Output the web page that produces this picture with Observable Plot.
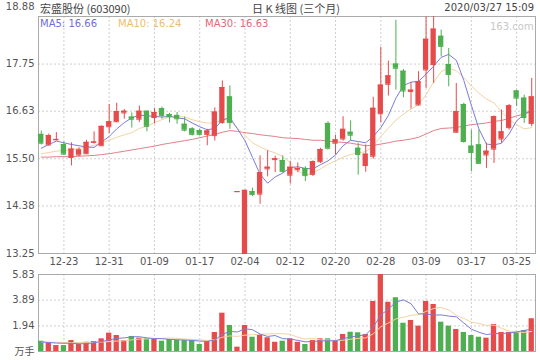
<!DOCTYPE html>
<html><head><meta charset="utf-8">
<script src="https://cdn.jsdelivr.net/npm/d3@7"></script>
<script src="https://cdn.jsdelivr.net/npm/@observablehq/plot@0.6"></script>
<style>
body{margin:0;background:#fff;}
#wrap{position:relative;width:540px;height:360px;overflow:hidden;font-family:"DejaVu Sans","Noto Sans CJK SC",sans-serif;color:#444;}
.t{position:absolute;white-space:nowrap;line-height:12px;}
#p1,#p2{position:absolute;left:0;}
</style></head><body>
<div id="wrap">
 <div id="p1" style="top:0"></div>
 <div id="p2" style="top:266px"></div>
 <div class="t" style="left:40px;top:2px;font-size:11px;font-family:'Noto Sans CJK SC',sans-serif;">宏盛股份 (603090)</div>
 <div class="t" style="left:252px;top:2px;font-size:11px;font-family:'Noto Sans CJK SC',sans-serif;">日 K 线图 (三个月)</div>
 <div class="t" style="right:6px;top:2px;font-size:10px;">2020/03/27 15:09</div>
 <div class="t" style="left:40px;top:18px;font-size:10px;color:#6f6fd6;">MA5: 16.66</div>
 <div class="t" style="left:118px;top:18px;font-size:10px;color:#eebc6e;">MA10: 16.24</div>
 <div class="t" style="left:205px;top:18px;font-size:10px;color:#de6a78;">MA30: 16.63</div>
 <div class="t" style="left:490px;top:21px;font-size:10px;color:#c8c8c8;">163.com</div>
</div>
<script>
const dates = ["12-18","12-19","12-20","12-23","12-24","12-25","12-26","12-27","12-30","12-31",
"01-02","01-03","01-06","01-07","01-08","01-09","01-10","01-13","01-14","01-15","01-16","01-17","01-20","01-21","01-22","01-23",
"02-03","02-04","02-05","02-06","02-07","02-10","02-11","02-12","02-13","02-14","02-17","02-18","02-19","02-20","02-21","02-24","02-25","02-26","02-27","02-28",
"03-02","03-03","03-04","03-05","03-06","03-09","03-10","03-11","03-12","03-13","03-16","03-17","03-18","03-19","03-20","03-23","03-24","03-25","03-26","03-27"];
const open = [16.08,15.83,15.95,15.84,15.53,15.59,15.62,15.89,15.81,16.26,
16.38,16.59,16.49,16.44,16.63,16.48,16.69,16.55,16.53,16.32,16.21,16.17,16.08,16.05,16.36,16.97,
14.72,13.25,14.72,14.66,15.26,15.48,15.46,15.11,15.24,15.27,15.13,15.43,16.34,15.87,15.97,16.13,15.75,15.34,15.56,16.57,
17.27,17.75,17.58,17.10,16.78,17.61,17.74,18.41,17.74,16.13,16.79,15.80,15.83,15.59,15.73,15.97,16.24,17.11,16.94,16.34];
const high = [16.16,16.09,16.12,15.90,15.88,15.76,15.94,16.14,16.28,16.79,
16.82,16.67,16.59,16.75,16.63,16.70,16.73,16.58,16.60,16.49,16.24,16.20,16.20,16.71,17.35,17.23,
14.72,14.75,14.80,15.57,15.69,15.56,15.57,15.43,15.40,15.31,15.45,15.75,16.38,16.06,16.50,16.40,15.87,15.83,16.96,18.15,
17.82,18.79,17.62,17.31,17.57,18.87,18.88,18.56,18.12,17.29,16.82,16.18,16.18,15.87,16.52,16.66,16.79,17.13,17.01,17.41];
const low = [15.83,15.80,15.93,15.58,15.33,15.55,15.60,15.85,15.80,16.10,
16.36,16.44,16.23,16.36,16.14,16.33,16.44,16.35,16.32,16.14,16.04,16.04,15.81,15.92,16.32,16.20,
14.72,13.25,14.60,14.42,15.07,15.17,15.16,14.90,15.17,14.96,15.08,15.39,15.71,15.59,15.92,15.92,15.11,15.18,15.49,16.35,
16.99,17.13,16.95,16.68,16.75,17.17,17.29,17.92,17.21,16.11,15.87,15.19,15.39,15.27,15.39,15.87,16.18,16.74,16.34,16.26];
const close = [15.87,16.05,15.96,15.61,15.73,15.71,15.89,15.90,16.27,16.38,
16.62,16.63,16.44,16.63,16.27,16.60,16.53,16.50,16.45,16.18,16.08,16.08,16.16,16.61,17.19,16.36,
14.72,14.75,14.65,15.17,15.30,15.50,15.20,15.30,15.27,15.10,15.43,15.72,15.75,15.95,16.20,16.06,15.60,15.61,16.70,17.25,
17.47,17.65,17.11,17.13,17.33,18.34,18.58,18.17,17.50,16.62,15.91,15.65,15.39,15.68,16.50,16.14,16.76,16.94,16.48,16.97];
const ma5 = [15.75,15.84,15.92,15.88,15.84,15.81,15.78,15.77,15.90,16.03,
16.21,16.36,16.47,16.54,16.52,16.51,16.49,16.51,16.47,16.45,16.35,16.26,16.19,16.22,16.42,16.48,
16.21,15.93,15.53,15.13,14.92,15.07,15.16,15.29,15.31,15.27,15.26,15.36,15.45,15.59,15.81,15.94,15.91,15.88,16.03,16.24,
16.53,16.94,17.24,17.32,17.34,17.51,17.70,17.91,17.98,17.84,17.36,16.77,16.21,15.85,15.83,15.87,16.09,16.40,16.56,16.66];
const ma10 = [15.62,15.65,15.68,15.70,15.72,15.75,15.78,15.82,15.88,15.94,
16.01,16.07,16.12,16.22,16.27,16.36,16.43,16.49,16.51,16.49,16.43,16.38,16.35,16.35,16.44,16.41,
16.23,16.06,15.88,15.78,15.70,15.64,15.55,15.41,15.22,15.10,15.17,15.26,15.37,15.45,15.54,15.60,15.64,15.67,15.81,16.03,
16.23,16.42,16.56,16.68,16.79,17.02,17.32,17.57,17.65,17.59,17.43,17.23,17.06,16.92,16.83,16.61,16.43,16.31,16.21,16.24];
const ma30 = [15.54,15.54,15.55,15.55,15.55,15.56,15.57,15.58,15.60,15.62,
15.65,15.68,15.71,15.74,15.77,15.80,15.84,15.87,15.90,15.93,15.96,16.00,16.04,16.08,16.13,16.17,
16.15,16.12,16.10,16.07,16.05,16.03,16.00,15.99,15.98,15.96,15.94,15.94,15.92,15.90,15.89,15.87,15.84,15.81,15.82,15.85,
15.88,15.92,15.94,15.97,16.01,16.09,16.17,16.22,16.23,16.24,16.28,16.31,16.33,16.35,16.39,16.41,16.46,16.52,16.56,16.63];
const vol = [0.78,0.63,0.45,0.45,0.83,0.55,0.70,0.76,0.96,1.39,
1.21,0.83,1.14,1.01,0.96,0.96,0.78,0.91,0.85,0.83,0.83,0.53,0.78,1.44,2.90,1.97,
0.33,1.97,1.08,1.26,1.04,0.70,0.78,0.96,0.70,0.53,0.83,0.96,0.96,0.83,1.29,1.46,1.42,1.29,3.79,5.83,
3.73,4.07,2.14,2.35,1.92,3.79,3.56,2.22,1.92,1.67,1.44,1.21,1.08,1.01,2.05,1.44,1.44,1.46,1.59,2.48];
const vma5 = [0.72,0.68,0.64,0.62,0.63,0.58,0.60,0.66,0.76,0.87,
1.00,1.03,1.11,1.12,1.03,0.98,0.97,0.92,0.89,0.87,0.84,0.79,0.76,0.88,1.30,1.52,
1.48,1.72,1.65,1.32,1.14,1.21,0.97,0.95,0.84,0.73,0.76,0.80,0.80,0.82,0.97,1.10,1.19,1.26,1.85,2.76,
3.21,3.74,3.91,3.62,2.84,2.85,2.75,2.77,2.68,2.63,2.16,1.69,1.46,1.28,1.36,1.36,1.40,1.48,1.60,1.68];
const vma10 = [0.72,0.71,0.70,0.69,0.68,0.68,0.69,0.70,0.72,0.75,
0.79,0.81,0.88,0.94,0.95,0.99,1.00,1.02,1.00,0.95,0.91,0.88,0.84,0.89,1.08,1.18,
1.14,1.24,1.27,1.31,1.33,1.35,1.35,1.30,1.08,0.94,0.99,0.88,0.87,0.83,0.85,0.93,0.99,1.03,1.34,1.87,
2.16,2.47,2.59,2.74,2.80,3.03,3.25,3.34,3.15,2.74,2.51,2.22,2.12,1.98,2.00,1.76,1.55,1.47,1.44,1.52];
const tickDates = ["12-23","12-31","01-09","01-17","02-04","02-12","02-20","02-28","03-09","03-17","03-25"];
const priceTicks = [13.25,14.38,15.50,16.63,17.75,18.88];
const volTicks = [0,1.94,3.89,5.83];

const RED = "#e64b4b", GREEN = "#4daf4f";
const rows = dates.map((d,i)=>({d,o:open[i],h:high[i],l:low[i],c:close[i],v:vol[i],
  m5:ma5[i],m10:ma10[i],m30:ma30[i],vm5:vma5[i],vm10:vma10[i],col:close[i]>=open[i]?RED:GREEN}));

const style = {fontFamily:'"DejaVu Sans","Noto Sans CJK SC",sans-serif',fontSize:"10px",color:"#555",background:"transparent",overflow:"visible"};
const xs = () => ({type:"band",domain:dates,range:[37,535],paddingInner:0.3,paddingOuter:0.15,label:null,axis:null});
const grid = {stroke:"#cfcfcf",strokeDasharray:"2,2",strokeOpacity:1};

const p1 = Plot.plot({
  width:540,height:266,marginLeft:38,marginRight:5,marginTop:16,marginBottom:13,
  style, x:xs(), y:{domain:[13.25,18.88],label:null,axis:null},
  marks:[
    Plot.ruleY(priceTicks.slice(1,-1),grid),
    Plot.ruleX(tickDates,grid),
    Plot.frame({stroke:"#aaa"}),
    Plot.line(rows,{x:"d",y:"m30",stroke:"#e0808c",strokeWidth:1}),
    Plot.line(rows,{x:"d",y:"m10",stroke:"#f3d3a3",strokeWidth:1}),
    Plot.line(rows,{x:"d",y:"m5",stroke:"#7b7bdc",strokeWidth:1}),
    Plot.ruleX(rows,{x:"d",y1:"l",y2:"h",stroke:"col",strokeWidth:1}),
    Plot.barY(rows,{x:"d",y1:"o",y2:"c",fill:"col"}),
    Plot.tickY(rows,{x:"d",y:"o",stroke:"col"}),
    Plot.tickY(rows,{x:"d",y:"c",stroke:"col"}),
    Plot.axisY(priceTicks.slice(0,-1),{tickSize:0,tickPadding:4,tickFormat:d=>d.toFixed(2),fill:"#555"}),
    Plot.axisY([18.88],{tickSize:0,tickPadding:4,tickFormat:d=>d.toFixed(2),fill:"#555",dy:-10}),
    Plot.axisX(tickDates,{tickSize:0,tickPadding:4,fill:"#555"})
  ]
});
document.getElementById("p1").appendChild(p1);

const p2 = Plot.plot({
  width:540,height:94,marginLeft:38,marginRight:5,marginTop:8,marginBottom:9,
  style, x:xs(), y:{domain:[0,5.83],label:null,axis:null},
  marks:[
    Plot.ruleY([1.94,3.89],grid),
    Plot.ruleX(tickDates,grid),
    Plot.frame({stroke:"#aaa"}),
    Plot.barY(rows,{x:"d",y:"v",fill:"col"}),
    Plot.line(rows,{x:"d",y:"vm10",stroke:"#f3d3a3",strokeWidth:1}),
    Plot.line(rows,{x:"d",y:"vm5",stroke:"#7b7bdc",strokeWidth:1}),
    Plot.axisY(volTicks,{tickSize:0,tickPadding:4,tickFormat:d=>d===0?"万手":d.toFixed(2),fill:"#555"})
  ]
});
document.getElementById("p2").appendChild(p2);
</script>
</body></html>
